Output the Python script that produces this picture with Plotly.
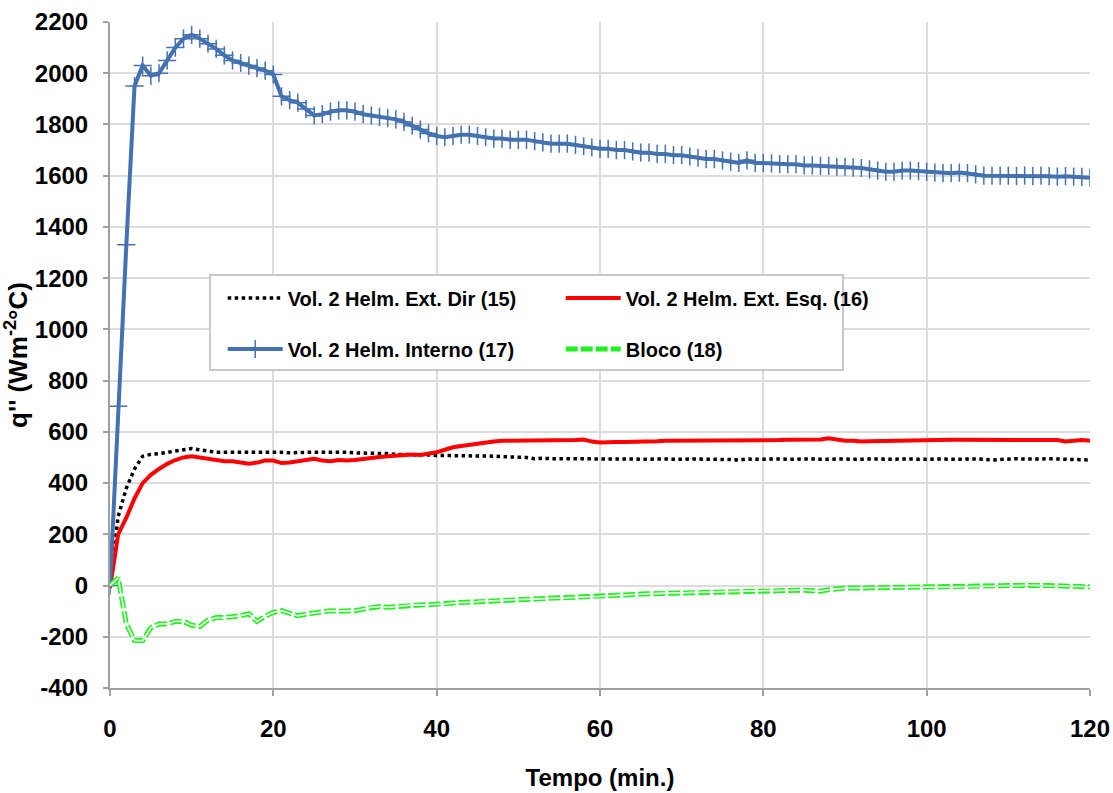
import plotly.graph_objects as go

tempo = list(range(0, 121))

ext_dir = [0, 270, 380, 455, 505, 512, 515, 520, 525, 530,
           535, 530, 525, 520, 520, 520, 522, 520, 520, 520,
           522, 520, 518, 520, 520, 520, 520, 522, 520, 520,
           518, 518, 515, 515, 515, 512, 512, 510, 510, 510,
           508, 508, 505, 505, 505, 505, 505, 505, 503, 502,
           500, 500, 495, 497, 495, 495, 495, 495, 497, 495,
           495, 494, 494, 495, 494, 493, 494, 495, 494, 493,
           494, 495, 494, 493, 493, 494, 492, 490, 494, 493,
           494, 495, 494, 493, 494, 495, 494, 493, 494, 495,
           494, 493, 494, 495, 494, 493, 494, 495, 494, 493,
           494, 495, 494, 493, 494, 495, 494, 493, 490, 492,
           494, 495, 494, 493, 494, 495, 494, 493, 492, 491,
           490]

ext_esq = [-10, 200, 265, 340, 400, 432, 455, 475, 490, 500,
           505, 500, 493, 488, 485, 485, 480, 476, 480, 488,
           488, 478, 480, 485, 490, 495, 488, 485, 490, 488,
           490, 495, 500, 502, 505, 508, 510, 512, 510, 515,
           520, 530, 540, 545, 550, 555, 560, 562, 565, 565,
           565, 565, 565, 565, 565, 565, 565, 568, 570, 562,
           558, 560, 560, 560, 560, 562, 563, 563, 565, 565,
           565, 566, 566, 567, 567, 567, 567, 567, 568, 568,
           568, 568, 568, 569, 569, 569, 570, 570, 575, 568,
           565, 565, 562, 563, 564, 565, 566, 566, 567, 567,
           568, 568, 568, 569, 569, 569, 569, 569, 570, 570,
           570, 570, 570, 570, 570, 570, 568, 562, 565, 568,
           565]

interno = [0, 700, 1330, 1950, 2030, 1990, 2000, 2050, 2100, 2135,
           2150, 2135, 2115, 2095, 2070, 2050, 2040, 2030, 2020, 2010,
           1995, 1910, 1895, 1885, 1860, 1835, 1840, 1850, 1855, 1855,
           1850, 1840, 1835, 1830, 1825, 1820, 1810, 1795, 1780, 1765,
           1755, 1750, 1755, 1760, 1760, 1755, 1750, 1745, 1745, 1740,
           1740, 1740, 1735, 1730, 1725, 1725, 1725, 1720, 1715, 1710,
           1705, 1705, 1700, 1700, 1695, 1690, 1690, 1685, 1685, 1680,
           1680, 1675, 1670, 1665, 1665, 1660, 1655, 1650, 1660, 1650,
           1650, 1648, 1645, 1645, 1645, 1640, 1640, 1638, 1638, 1635,
           1635, 1632, 1630, 1625, 1620, 1615, 1615, 1620, 1620, 1618,
           1615, 1612, 1610, 1610, 1612, 1610, 1605, 1600, 1600, 1600,
           1600, 1598, 1600, 1598, 1600, 1598, 1596, 1598, 1596, 1595,
           1592]

bloco = [0, 30, -150, -215, -215, -165, -150, -150, -140, -140,
         -155, -160, -135, -125, -125, -122, -118, -110, -140, -120,
         -105, -98, -108, -118, -112, -108, -102, -98, -100, -100,
         -98, -92, -85, -82, -85, -82, -78, -76, -76, -75,
         -74, -72, -68, -66, -66, -64, -62, -60, -58, -56,
         -55, -54, -52, -50, -49, -48, -47, -46, -45, -44,
         -42, -40, -38, -37, -35, -33, -32, -31, -30, -29,
         -28, -28, -27, -26, -26, -25, -24, -23, -22, -21,
         -20, -20, -19, -19, -18, -18, -20, -22, -16, -12,
         -10, -10, -9, -9, -8, -8, -7, -7, -6, -6,
         -5, -5, -5, -5, -5, -5, -4, -3, -2, -1,
         0, 1, 2, 1, 0, 0, -1, -2, -3, -4,
         -5]

labels = ["Vol. 2 Helm. Ext. Dir (15)", "Vol. 2 Helm. Ext. Esq. (16)",
          "Vol. 2 Helm. Interno (17)", "Bloco (18)"]

x_ticks = [0, 20, 40, 60, 80, 100, 120]
y_ticks = list(range(-400, 2201, 200))
y_ticktext = [str(v) for v in y_ticks]

BLUE = "#4472b0"
GREEN = "#22ee22"

fig = go.Figure()
fig.add_trace(go.Scatter(x=tempo, y=ext_dir, mode="lines", name=labels[0], legend="legend",
                         line=dict(color="black", width=3.5, dash="dot")))
fig.add_trace(go.Scatter(x=tempo, y=ext_esq, mode="lines", name=labels[1], legend="legend",
                         line=dict(color="#ff0000", width=4)))
fig.add_trace(go.Scatter(x=tempo, y=interno, mode="lines+markers", name=labels[2], legend="legend2",
                         line=dict(color=BLUE, width=4),
                         marker=dict(symbol="cross-thin", size=13,
                                     line=dict(color=BLUE, width=1.5))))
fig.add_trace(go.Scatter(x=tempo, y=bloco, mode="lines", name=labels[3], legend="legend2",
                         line=dict(color=GREEN, width=5, dash="12px,3px")))
fig.add_trace(go.Scatter(x=tempo, y=bloco, mode="lines", showlegend=False,
                         hoverinfo="skip",
                         line=dict(color="#e6ffe6", width=1.8, dash="12px,3px")))

legend_font = dict(family="Liberation Sans", size=20, color="black", weight="bold")
common_legend = dict(orientation="h", xanchor="left", yanchor="middle",
                     bgcolor="rgba(0,0,0,0)", borderwidth=0,
                     font=legend_font, entrywidth=268, entrywidthmode="pixels",
                     itemwidth=55, traceorder="normal")

fig.update_layout(
    width=1113, height=793,
    paper_bgcolor="white", plot_bgcolor="white",
    margin=dict(l=110, r=23, t=22, b=105),
    font=dict(family="Liberation Sans", color="black"),
    legend=dict(common_legend, x=0.115, y=0.5856),
    legend2=dict(common_legend, x=0.115, y=0.509),
    shapes=[dict(type="rect", xref="paper", yref="paper",
                 x0=0.102, x1=0.748, y0=0.4775, y1=0.620,
                 fillcolor="white", line=dict(color="#c8c8c8", width=2),
                 layer="above")],
)
fig.update_xaxes(
    range=[0, 120], tickvals=x_ticks, ticks="outside", ticklen=6,
    tickcolor="#a0a0a0", tickwidth=1.5, ticklabelstandoff=12,
    showgrid=True, gridcolor="#dcdcdc", gridwidth=1.5,
    showline=True, linecolor="#a0a0a0", linewidth=2,
    zeroline=False, automargin=False,
    tickfont=dict(family="Liberation Sans", size=24, weight="bold"),
    title=dict(text="Tempo (min.)", standoff=28,
               font=dict(family="Liberation Sans", size=24, weight="bold")),
)
fig.update_yaxes(
    range=[-400, 2200], tickvals=y_ticks, ticktext=y_ticktext,
    ticks="outside", ticklen=5,
    tickcolor="#a0a0a0", tickwidth=1.5, ticklabelstandoff=10,
    showgrid=True, gridcolor="#dcdcdc", gridwidth=1.5,
    showline=True, linecolor="#a0a0a0", linewidth=2,
    zeroline=False, automargin=False,
    tickfont=dict(family="Liberation Sans", size=24, weight="bold"),
    title=dict(text="q'' (Wm<sup>-2</sup>°C)", standoff=0,
               font=dict(family="Liberation Sans", size=26, weight="bold")),
)

fig.write_html("out.html", config={"displayModeBar": False},
               post_script="document.body.style.margin='0px';document.body.style.padding='0px';")
